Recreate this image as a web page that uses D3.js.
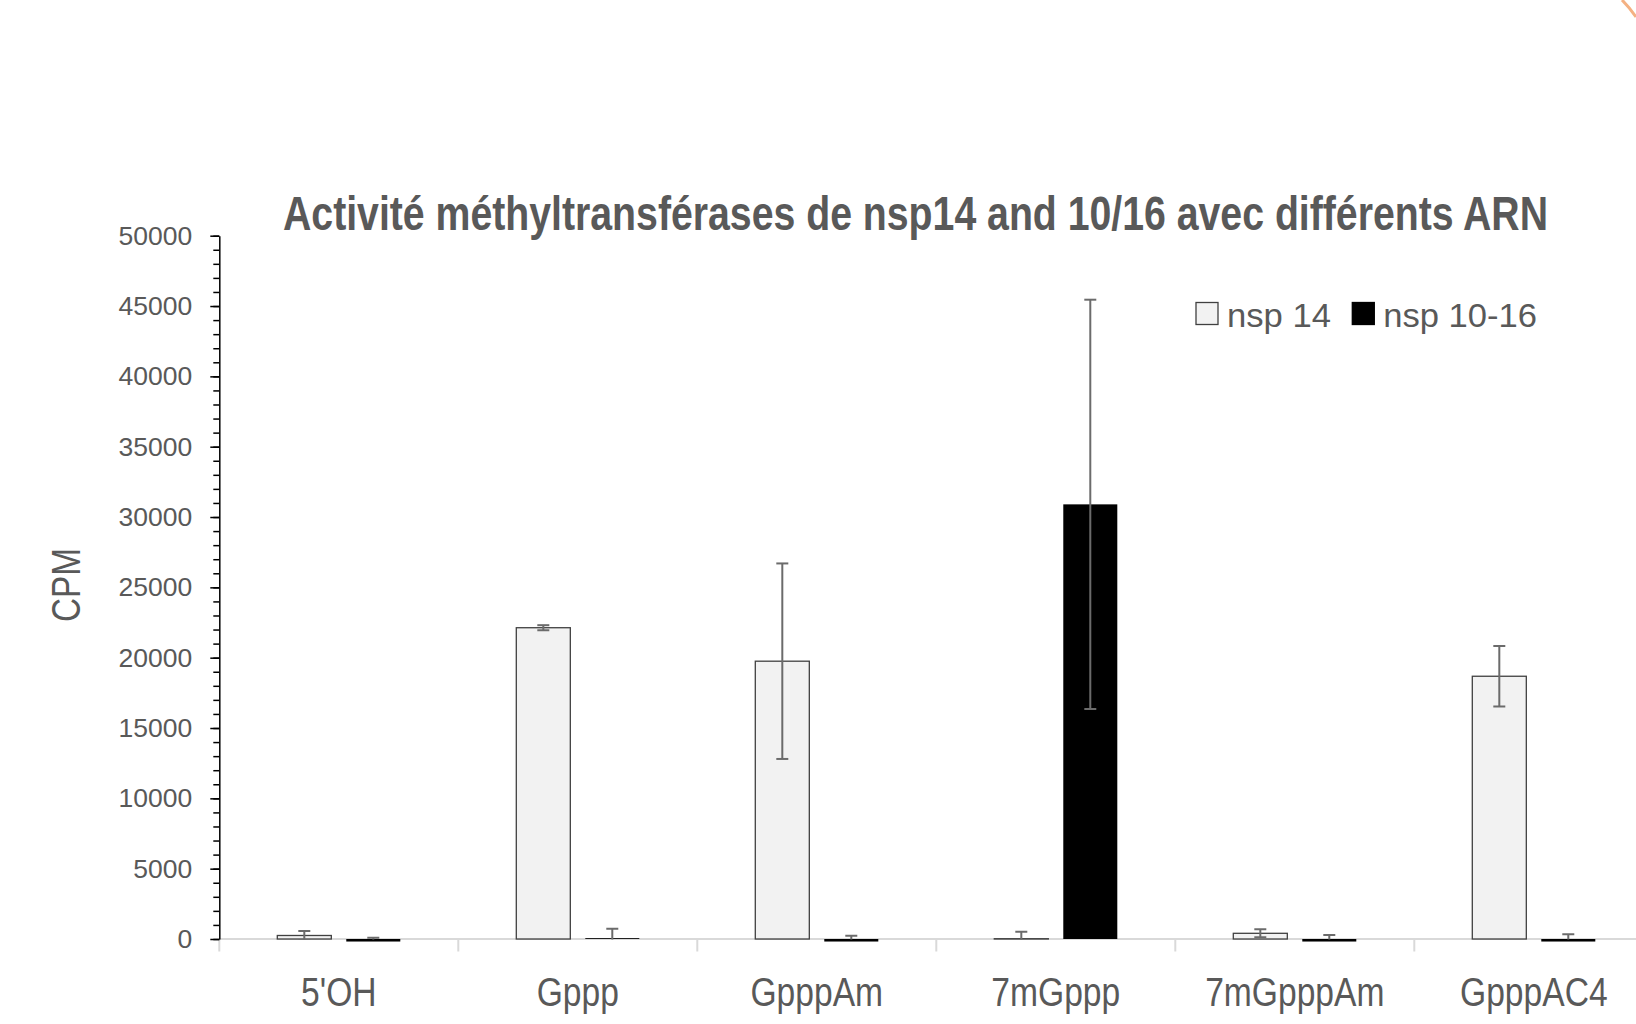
<!DOCTYPE html>
<html>
<head>
<meta charset="utf-8">
<script src="https://cdn.jsdelivr.net/npm/d3@7"></script>
<style>
  body { margin: 0; background: #fff; }
  svg { display: block; }
</style>
</head>
<body>
<div id="chart"></div>
<script>
// categories and values
var categories = ["5'OH", "Gppp", "GpppAm", "7mGppp", "7mGpppAm", "GpppAC4"];
var seriesNames = ["nsp 14", "nsp 10-16"];
var nsp14 = [250, 22130, 19750, 20, 405, 18680];
var nsp14Err = [320, 180, 6950, 500, 285, 2150];
var nsp1016 = [-180, 60, -180, 30900, -180, -180];
var nsp1016Err = [270, 670, 415, 14550, 465, 515];
var yTicks = [0, 5000, 10000, 15000, 20000, 25000, 30000, 35000, 40000, 45000, 50000];

var title = "Activité méthyltransférases de nsp14 and 10/16 avec différents ARN";
var yLabel = "CPM";

var W = 1636, H = 1024;
var textColor = "#595959";
var font = "'Liberation Sans', Arial, sans-serif";

var svg = d3.select("#chart").append("svg")
  .attr("width", W)
  .attr("height", H);

svg.append("rect").attr("width", W).attr("height", H).attr("fill", "#fff");

// plot area: left edge of axis, bottom = value 0, top = value 50000
var plotLeft = 219.3, plotBottom = 939, plotTop = 235.7, step = 239;

var x0 = d3.scaleBand()
  .domain(categories)
  .range([plotLeft, plotLeft + step * categories.length])
  .padding(0);

//bars sit inside each category with about 58px on each side
var x1 = d3.scaleBand()
  .domain(seriesNames)
  .range([58, step - 58])
  .paddingInner(0.217)
  .paddingOuter(0);

var y = d3.scaleLinear().domain([0, 50000]).range([plotBottom, plotTop]);

//rows for drawing
var rows = [];
categories.forEach(function(c, i) {
  rows.push({cat: c, s: seriesNames[0], v: nsp14[i], e: nsp14Err[i]});
  rows.push({cat: c, s: seriesNames[1], v: nsp1016[i], e: nsp1016Err[i]});
});

//x axis: light gray line with category separators
var xAxis = svg.append("g")
  .attr("transform", "translate(0," + plotBottom + ")");
xAxis.append("line")
  .attr("x1", plotLeft).attr("x2", W)
  .attr("stroke", "#d9d9d9").attr("stroke-width", 2);
xAxis.selectAll(".sep")
  .data(d3.range(categories.length + 1))
  .enter().append("line")
  .attr("class", "sep")
  .attr("x1", function(d) { return plotLeft + d * x0.step(); })
  .attr("x2", function(d) { return plotLeft + d * x0.step(); })
  .attr("y1", 0).attr("y2", 12.5)
  .attr("stroke", "#d9d9d9").attr("stroke-width", 2);

//category labels, narrow font
svg.append("g").selectAll("g")
  .data(categories)
  .enter().append("g")
  .attr("transform", function(d) { return "translate(" + (x0(d) + x0.bandwidth() / 2) + ",1005.7)"; })
  .append("text")
  .attr("transform", "scale(0.82,1)")
  .attr("text-anchor", "middle")
  .attr("font-family", font)
  .attr("font-size", 41)
  .attr("fill", textColor)
  .text(function(d) { return d; });

//bars
var colors = {"nsp 14": "#f2f2f2", "nsp 10-16": "#000000"};
svg.append("g").selectAll("rect")
  .data(rows)
  .enter().append("rect")
  .attr("x", function(d) { return x0(d.cat) + x1(d.s); })
  .attr("y", function(d) { return Math.min(y(d.v), y(0)); })
  .attr("width", x1.bandwidth())
  .attr("height", function(d) { return Math.abs(y(d.v) - y(0)); })
  .attr("fill", function(d) { return colors[d.s]; })
  .attr("stroke", function(d) { return d.s == "nsp 14" ? "#404040" : "none"; })
  .attr("stroke-width", 1.3);

//error bars, clipped to the plot area like in Excel
svg.append("clipPath").attr("id", "plotclip")
  .append("rect")
  .attr("x", plotLeft).attr("y", plotTop - 20)
  .attr("width", W - plotLeft).attr("height", plotBottom - plotTop + 20.5);

var err = svg.append("g").attr("clip-path", "url(#plotclip)")
  .selectAll("g")
  .data(rows)
  .enter().append("g")
  .attr("stroke", "#6b6b6b")
  .attr("stroke-width", 2);

function cx(d) { return x0(d.cat) + x1(d.s) + x1.bandwidth() / 2; }

err.append("line")
  .attr("x1", cx).attr("x2", cx)
  .attr("y1", function(d) { return y(d.v + d.e); })
  .attr("y2", function(d) { return y(d.v - d.e); });
err.append("line")
  .attr("x1", function(d) { return cx(d) - 6; })
  .attr("x2", function(d) { return cx(d) + 6; })
  .attr("y1", function(d) { return y(d.v + d.e); })
  .attr("y2", function(d) { return y(d.v + d.e); });
err.append("line")
  .attr("x1", function(d) { return cx(d) - 6; })
  .attr("x2", function(d) { return cx(d) + 6; })
  .attr("y1", function(d) { return y(d.v - d.e); })
  .attr("y2", function(d) { return y(d.v - d.e); });

//y axis: minor ticks every 1000, labelled ticks every 5000
var minor = svg.append("g")
  .attr("transform", "translate(" + plotLeft + ",0)")
  .call(d3.axisLeft(y).tickValues(d3.range(0, 50001, 1000)).tickSize(6).tickFormat(""));
minor.select(".domain").remove();
minor.selectAll(".tick line").attr("stroke", "#000").attr("stroke-width", 1.5);

var yAxis = svg.append("g")
  .attr("transform", "translate(" + plotLeft + ",0)")
  .call(d3.axisLeft(y).tickValues(yTicks).tickSize(9).tickSizeOuter(0).tickPadding(18).tickFormat(d3.format("d")));
yAxis.select(".domain").attr("stroke", "#000").attr("stroke-width", 1.5);
yAxis.selectAll(".tick line").attr("stroke", "#000").attr("stroke-width", 1.5);
yAxis.selectAll(".tick text")
  .attr("font-family", font)
  .attr("font-size", 26.5)
  .attr("fill", textColor);

//y axis title
svg.append("text")
  .attr("transform", "translate(80,585) rotate(-90)")
  .attr("text-anchor", "middle")
  .attr("font-family", font)
  .attr("font-size", 41)
  .attr("textLength", 74)
  .attr("lengthAdjust", "spacingAndGlyphs")
  .attr("fill", textColor)
  .text(yLabel);

//chart title
svg.append("text")
  .attr("x", 283)
  .attr("y", 229.5)
  .attr("font-family", font)
  .attr("font-weight", "bold")
  .attr("font-size", 48)
  .attr("textLength", 1265)
  .attr("lengthAdjust", "spacingAndGlyphs")
  .attr("fill", textColor)
  .text(title);

//legend
var legendX = [1196, 1352.3], legendW = [104, 153.7];
var legend = svg.append("g").selectAll("g")
  .data(seriesNames)
  .enter().append("g")
  .attr("transform", function(d, i) { return "translate(" + legendX[i] + ",302.5)"; });
legend.append("rect")
  .attr("width", 22).attr("height", 22)
  .attr("fill", function(d) { return colors[d]; })
  .attr("stroke", function(d) { return d == "nsp 14" ? "#404040" : "#000"; })
  .attr("stroke-width", 1.3);
legend.append("text")
  .attr("x", 31)
  .attr("y", 24.2)
  .attr("font-family", font)
  .attr("font-size", 34)
  .attr("textLength", function(d, i) { return legendW[i]; })
  .attr("lengthAdjust", "spacingAndGlyphs")
  .attr("fill", textColor)
  .text(function(d) { return d; });

//orange slide decoration in the top right corner
svg.append("path")
  .attr("d", "M1622,0 Q1629,7 1636,17")
  .attr("fill", "none")
  .attr("stroke", "#f4b183")
  .attr("stroke-width", 3);
</script>
</body>
</html>
